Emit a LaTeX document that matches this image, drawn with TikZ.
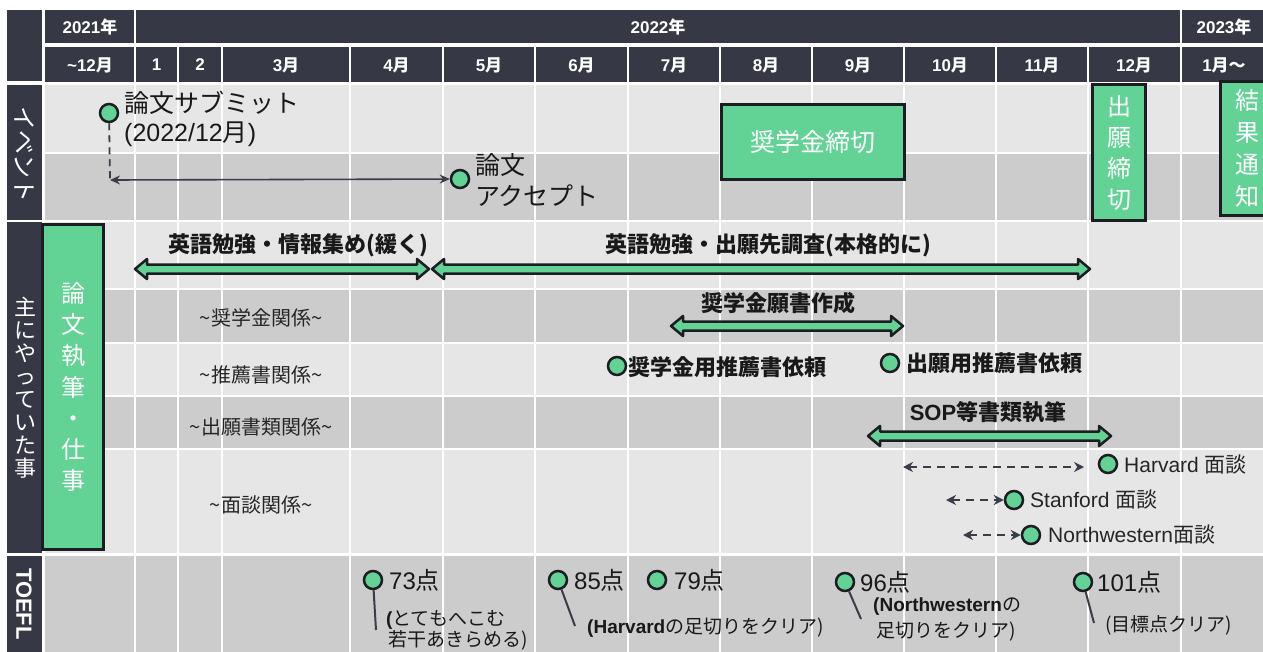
\documentclass[tikz,border=0pt]{standalone}
\usepackage{fontspec}
\setmainfont{Liberation Sans}
\newfontfamily\jp{Noto Sans CJK JP}
\usetikzlibrary{arrows.meta,calc}
\definecolor{hdark}{HTML}{363846}
\definecolor{gfill}{HTML}{62D295}
\definecolor{rowA}{HTML}{E6E6E6}
\definecolor{rowB}{HTML}{CCCCCC}
\definecolor{lnk}{HTML}{3A3C48}
\definecolor{bord}{HTML}{1C1D22}
\tikzset{
  hdr/.style={text=white, font=\bfseries\fontsize{17}{20}\selectfont, inner sep=0},
  dot/.style={circle, fill=gfill, draw=bord, line width=2.5pt, minimum size=18pt, inner sep=0},
  gbox/.style={fill=gfill, draw=bord, line width=3pt, text=white, inner sep=0},
  garr/.style={fill=gfill, draw=bord, line width=2.5pt, line join=round},
  thinarr/.style={draw=lnk, line width=1.6pt, {Stealth[length=10pt,width=9pt]}-{Stealth[length=10pt,width=9pt]}},
  dashline/.style={draw=lnk, line width=1.8pt, dash pattern=on 7pt off 5pt},
  dasharr/.style={draw=lnk, line width=2pt, dash pattern=on 8pt off 6pt, {Stealth[length=10pt,width=10pt]}-{Stealth[length=10pt,width=10pt]}},
  pinline/.style={draw=lnk, line width=2pt},
  evt/.style={font=\jp\fontsize{25}{30}\selectfont, inner sep=0, anchor=west, text=black!90},
  evtl/.style={font=\fontsize{25}{30}\selectfont, inner sep=0, anchor=west, text=black!90},
  blab/.style={font=\jp\bfseries\fontsize{22}{26}\selectfont, inner sep=0, text=black!90},
  rlab/.style={font=\jp\fontsize{20}{22}\selectfont, inner sep=0, text=black!85},
  ilab/.style={font=\fontsize{21}{24}\selectfont, inner sep=0, anchor=west, text=black!85},
  score/.style={font=\fontsize{24}{28}\selectfont, inner sep=0, anchor=west, text=black!90},
  note/.style={font=\jp\fontsize{19}{23}\selectfont, inner sep=0, anchor=west, text=black!90},
  sidelab/.style={text=white, inner sep=0},
}
\newcommand\garrow[2]{%
  \path[garr] let \p1=(#1), \p2=(#2) in
   (\x1,\y1) -- (\x1+12pt,\y1+10pt) -- (\x1+12pt,\y1+4.5pt) -- (\x2-12pt,\y1+4.5pt)
   -- (\x2-12pt,\y1+10pt) -- (\x2,\y1) -- (\x2-12pt,\y1-10pt) -- (\x2-12pt,\y1-4.5pt)
   -- (\x1+12pt,\y1-4.5pt) -- (\x1+12pt,\y1-10pt) -- cycle;}
\begin{document}
\begin{tikzpicture}[x=1pt,y=-1pt]
\useasboundingbox (0,0) rectangle (1263,651);
\clip (0,0) rectangle (1263,651);
\fill[white] (0,0) rectangle (1263,651);

% ---------- header ----------
\fill[hdark] (7,10) rectangle (42,81);
\fill[hdark] (45,10) rectangle (1270,43);
\fill[hdark] (45,47) rectangle (1270,82);
\foreach \x in {135,1181} \draw[white, line width=1.5pt] (\x,10) -- (\x,43);
\foreach \x in {135,178,222,350,443,535,628,720,812,904,996,1088,1181}
  \draw[white, line width=1.5pt] (\x,47) -- (\x,82);
\node[hdr] (y21) at (90,27) {2021{\jp 年}};
\node[hdr] (y22) at (658,27) {2022{\jp 年}};
\node[hdr] (y23) at (1224,27) {2023{\jp 年}};
\foreach \cx/\lab/\nm in {90/{\textasciitilde 12{\jp 月}}/m0, 156.5/1/m1, 200/2/m2,
   286/{3{\jp 月}}/m3, 396.5/{4{\jp 月}}/m4, 489/{5{\jp 月}}/m5, 581.5/{6{\jp 月}}/m6,
   674/{7{\jp 月}}/m7, 766/{8{\jp 月}}/m8, 858/{9{\jp 月}}/m9, 950/{10{\jp 月}}/m10,
   1042/{11{\jp 月}}/m11, 1134/{12{\jp 月}}/m12, 1224/{1{\jp 月〜}}/m13}
  \node[hdr] (\nm) at (\cx,65) {\lab};

% ---------- row backgrounds ----------
\fill[rowA] (44.5,84.5) rectangle (1270,153);
\fill[rowB] (44.5,153) rectangle (1270,219.5);
\fill[rowA] (44.5,222) rectangle (1270,289);
\fill[rowB] (44.5,289) rectangle (1270,343);
\fill[rowA] (44.5,343) rectangle (1270,396);
\fill[rowB] (44.5,396) rectangle (1270,449);
\fill[rowA] (44.5,449) rectangle (1270,553);
\fill[rowB] (44.5,555.5) rectangle (1270,660);
\foreach \y in {153,289,343,396,449}
  \draw[white, line width=2pt] (44.5,\y) -- (1270,\y);
\foreach \x in {135,178,222,350,443,535,628,720,812,904,996,1088,1181}
  \draw[white, line width=2pt] (\x,84.5) -- (\x,660);

% ---------- side labels ----------
\fill[hdark] (7,84.5) rectangle (42,219.5);
\fill[hdark] (7,222) rectangle (42,553);
\fill[hdark] (7,555.5) rectangle (42,660);
\node[sidelab, rotate=-90, font=\jp\fontsize{24}{26}\selectfont] (ev) at (25,154) {イベント};
\node[sidelab, align=center, font=\jp\fontsize{22}{23}\selectfont] (omo) at (25,388)
  {主\\に\\や\\っ\\て\\い\\た\\事};
\node[sidelab, rotate=-90, font=\bfseries\fontsize{22}{24}\selectfont] (toefl) at (24,604) {TOEFL};
\node[gbox, minimum width=61pt, minimum height=325pt, align=center,
  font=\jp\fontsize{24}{31.3}\selectfont] (ronbun) at (73,387)
  {論\\文\\執\\筆\\・\\仕\\事};

% ---------- events ----------
\node[dot] (subm) at (109,113) {};
\node[evt] (subt1) at (124,103) {論文サブミット};
\node[evtl] (subt2) at (124,134) {(2022/12{\jp 月})};
\coordinate (subend) at (110,180);
\node[dot] (acc) at (460,179) {};
\node[evt] (acct1) at (475,165) {論文};
\node[evt] (acct2) at (475,196) {アクセプト};
\draw[dashline] (subm) -- (subend);
\draw[thinarr] (subend) -- (acc);

\node[gbox, minimum width=183pt, minimum height=75pt, font=\jp\fontsize{25}{30}\selectfont]
  (shogaku) at (813,142) {奨学金締切};
\node[gbox, minimum width=53pt, minimum height=136pt, align=center,
  font=\jp\fontsize{24}{31}\selectfont] (shutsu) at (1119,152.5) {出\\願\\締\\切};
\node[gbox, minimum width=53pt, minimum height=134pt, align=center,
  font=\jp\fontsize{24}{32}\selectfont] (kekka) at (1247,148.5) {結\\果\\通\\知};

% ---------- main activities ----------
\node[blab] (eng1) at (298,245) {英語勉強・情報集め(緩く)};
\node[blab] (eng2) at (768,245) {英語勉強・出願先調査(本格的に)};
\coordinate (e1a) at (135,269); \coordinate (e1b) at (429,269);
\coordinate (e2a) at (432,269); \coordinate (e2b) at (1090,269);
\garrow{e1a}{e1b}
\garrow{e2a}{e2b}

\node[rlab] (r1) at (261,318) {\textasciitilde 奨学金関係\textasciitilde};
\node[rlab] (r2) at (261,375) {\textasciitilde 推薦書関係\textasciitilde};
\node[rlab] (r3) at (261,427) {\textasciitilde 出願書類関係\textasciitilde};
\node[rlab] (r4) at (261,505) {\textasciitilde 面談関係\textasciitilde};

\node[blab] (gansho) at (778,303) {奨学金願書作成};
\coordinate (g1a) at (671,326); \coordinate (g1b) at (903,326);
\garrow{g1a}{g1b}

\node[dot] (rec1) at (617,366) {};
\node[blab, anchor=west] (rec1t) at (628,367) {奨学金用推薦書依頼};
\node[dot] (rec2) at (890,363) {};
\node[blab, anchor=west] (rec2t) at (906,363) {出願用推薦書依頼};

\node[blab, font=\bfseries\fontsize{22}{26}\selectfont] (sop) at (988,412) {SOP{\jp 等書類執筆}};
\coordinate (s1a) at (868,436); \coordinate (s1b) at (1111,436);
\garrow{s1a}{s1b}

\node[dot] (harv) at (1108,464) {};
\node[ilab] (harvt) at (1124,465) {Harvard {\jp 面談}};
\coordinate (hs) at (903,467); \coordinate (he) at (1084,467);
\draw[dasharr] (hs) -- (he);

\node[dot] (stan) at (1014,500) {};
\node[ilab] (stant) at (1030,500) {Stanford {\jp 面談}};
\coordinate (ss) at (946,500);
\draw[dasharr] (ss) -- (stan);

\node[dot] (nwu) at (1031,535) {};
\node[ilab] (nwut) at (1048,535) {Northwestern{\jp 面談}};
\coordinate (ns) at (963,535);
\draw[dasharr] (ns) -- (nwu);

% ---------- TOEFL ----------
\node[dot] (t73) at (373,580) {};
\node[score] (t73t) at (389,580) {73{\jp 点}};
\coordinate (p73) at (376,630);
\draw[pinline] (t73) -- (p73);
\node[note] (n73a) at (386,620) {{\rmfamily\bfseries (}とてもへこむ};
\node[note] (n73b) at (388,640) {若干あきらめる)};

\node[dot] (t85) at (558,580) {};
\node[score] (t85t) at (574,580) {85{\jp 点}};
\coordinate (p85) at (575,626);
\draw[pinline] (t85) -- (p85);
\node[note] (n85) at (587,628) {{\rmfamily\bfseries (Harvard}の足切りをクリア)};

\node[dot] (t79) at (657,580) {};
\node[score] (t79t) at (674,580) {79{\jp 点}};

\node[dot] (t96) at (845,582) {};
\node[score] (t96t) at (860,582) {96{\jp 点}};
\coordinate (p96) at (861,619);
\draw[pinline] (t96) -- (p96);
\node[note] (n96a) at (873,607) {{\rmfamily\bfseries (Northwestern}の};
\node[note] (n96b) at (876,632) {足切りをクリア)};

\node[dot] (t101) at (1083,582) {};
\node[score] (t101t) at (1097,582) {101{\jp 点}};
\coordinate (p101) at (1094,623);
\draw[pinline] (t101) -- (p101);
\node[note] (n101) at (1105,625) {(目標点クリア)};
\end{tikzpicture}
\end{document}
